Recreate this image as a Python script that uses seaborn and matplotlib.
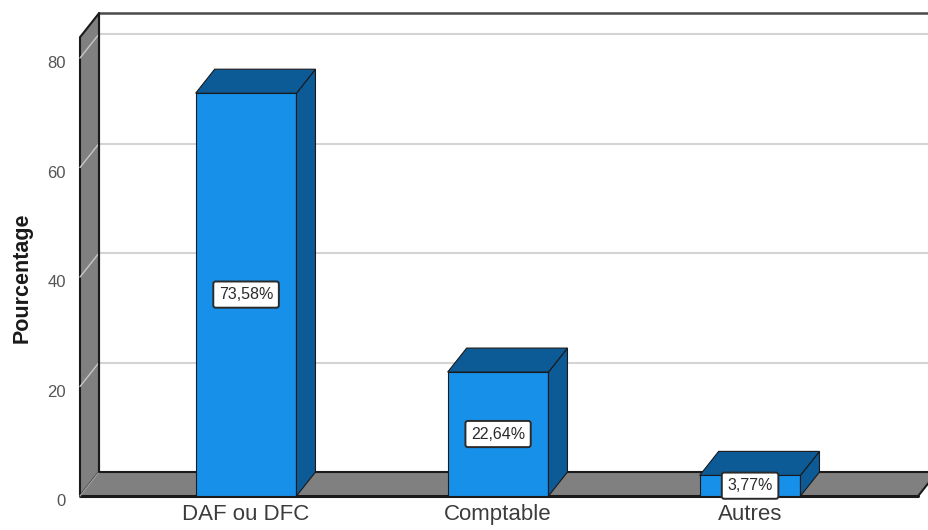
import matplotlib
matplotlib.use("Agg")
import matplotlib.pyplot as plt
from matplotlib.patches import Polygon
from matplotlib.transforms import ScaledTranslation
import pandas as pd
import seaborn as sns

# Data
categories = ["DAF ou DFC", "Comptable", "Autres"]
percentages = [73.58, 22.64, 3.77]
value_labels = ["73,58%", "22,64%", "3,77%"]
y_ticks = [0, 20, 40, 60, 80]

df = pd.DataFrame({"Fonction": categories, "Pourcentage": percentages})

sns.set_theme(style="white")
plt.rcParams["font.family"] = ["Liberation Sans", "DejaVu Sans"]

FRONT = "#1690e8"
DARK = "#0c5a96"
WALL = "#808080"
EDGE = "#1a1a1a"

fig = plt.figure(figsize=(9.29, 5.30), dpi=100)
ax = fig.add_axes([80 / 929, 34 / 530, 849 / 929, 496 / 530])

sns.barplot(data=df, x="Fonction", y="Pourcentage", color=FRONT, width=0.4,
            saturation=1, edgecolor=EDGE, linewidth=0.8, ax=ax, zorder=3)

# 3D frame geometry (depth offset in data units)
x_left, x_right = -0.659, 2.710
y_top = 90.6
dx, dy = 0.0754, 4.38
wall_top = 83.8
floor_right = 2.667

ax.set_xlim(x_left, x_right)
ax.set_ylim(0, y_top)
for s in ax.spines.values():
    s.set_visible(False)

# Gridlines on the back wall and across the left wall
for v in y_ticks[1:]:
    ax.plot([x_left + dx, x_right], [v + dy, v + dy], color="#d4d4d4", lw=1.5, zorder=0.5)
    ax.plot([x_left, x_left + dx], [v, v + dy], color="#c8c8c8", lw=1.0, zorder=1.5, clip_on=False)

# Back wall outline
ax.plot([x_left + dx, x_right], [wall_top + dy, wall_top + dy], color="#4a4a4a", lw=1.8, zorder=1, clip_on=False)
ax.plot([x_left + dx, x_left + dx], [dy, wall_top + dy], color=EDGE, lw=1.5, zorder=1.6, clip_on=False)

# Left wall
left_wall = Polygon([(x_left, 0), (x_left, wall_top), (x_left + dx, wall_top + dy), (x_left + dx, dy)],
                    closed=True, facecolor=WALL, edgecolor=EDGE, lw=1.5, zorder=1, clip_on=False)
ax.add_patch(left_wall)

# Floor
floor = Polygon([(x_left, 0), (floor_right, 0), (floor_right + dx, dy), (x_left + dx, dy)],
                closed=True, facecolor=WALL, edgecolor="none", zorder=1.2, clip_on=False)
ax.add_patch(floor)
ax.plot([x_left + dx, x_right], [dy, dy], color=EDGE, lw=1.5, zorder=1.3)
ax.plot([x_left, floor_right], [0, 0], color=EDGE, lw=2.2, zorder=1.3, clip_on=False)
ax.plot([floor_right, floor_right + dx], [0, dy], color=EDGE, lw=1.5, zorder=1.3)
ax.plot([x_left, x_left + dx], [0, dy], color="#9a9a9a", lw=1.0, zorder=1.3, clip_on=False)

# Top and side faces of each bar, plus value boxes
for bar, label in zip(ax.patches, value_labels):
    bar.set_zorder(3)
    x0 = bar.get_x()
    x1 = x0 + bar.get_width()
    h = bar.get_height()
    top = Polygon([(x0, h), (x1, h), (x1 + dx, h + dy), (x0 + dx, h + dy)],
                  closed=True, facecolor=DARK, edgecolor=EDGE, lw=0.8, zorder=3)
    side = Polygon([(x1, 0), (x1 + dx, dy), (x1 + dx, h + dy), (x1, h)],
                   closed=True, facecolor=DARK, edgecolor=EDGE, lw=0.8, zorder=3)
    ax.add_patch(side)
    ax.add_patch(top)
    ax.text((x0 + x1) / 2, h / 2, label, ha="center", va="center", fontsize=11.5,
            color="#2a2a2a", zorder=6,
            bbox=dict(boxstyle="round,pad=0.35,rounding_size=0.15", facecolor="white",
                      edgecolor="#2a2a2a", lw=1.4))

# Axis text
ax.set_yticks(y_ticks)
ax.set_yticklabels([str(t) for t in y_ticks])
ax.tick_params(axis="y", length=0, pad=10, labelsize=12, labelcolor="#555555")
ax.tick_params(axis="x", length=0, pad=6, labelsize=16, labelcolor="#3c3c3c")
shift = ScaledTranslation(0, -4 / 100, fig.dpi_scale_trans)
for lab in ax.get_yticklabels():
    lab.set_transform(lab.get_transform() + shift)
ax.set_xlabel("")
ax.set_ylabel("")
fig.text(22 / 929, 1 - 278 / 530, "Pourcentage", rotation=90, ha="center", va="center",
         fontsize=15.5, fontweight="bold", color="#1a1a1a")

fig.savefig("out.png", dpi=100)
